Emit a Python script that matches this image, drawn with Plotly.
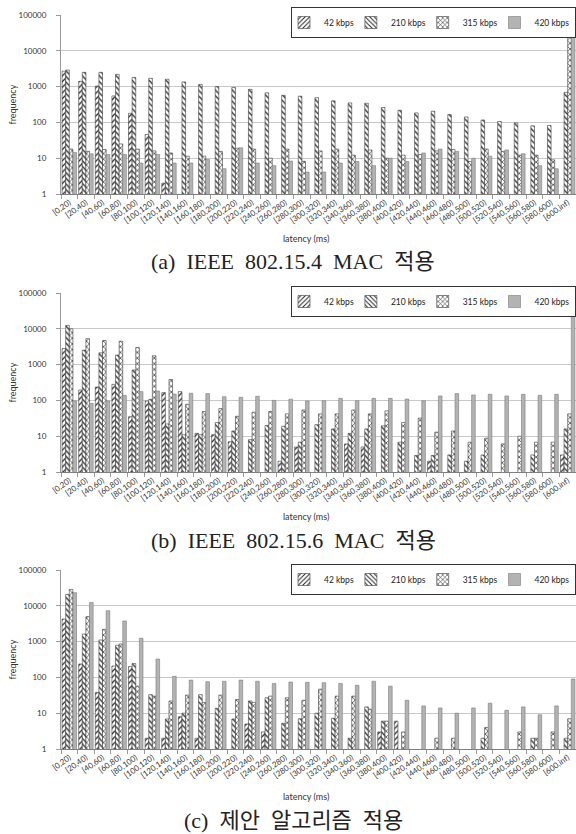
import plotly.graph_objects as go

# ---------------- data ----------------
CATEGORIES = ["[0,20)", "[20,40)", "[40,60)", "[60,80)", "[80,100)", "[100,120)",
              "[120,140)", "[140,160)", "[160,180)", "[180,200)", "[200,220)",
              "[220,240)", "[240,260)", "[260,280)", "[280,300)", "[300,320)",
              "[320,340)", "[340,360)", "[360,380)", "[380,400)", "[400,420)",
              "[420,440)", "[440,460)", "[460,480)", "[480,500)", "[500,520)",
              "[520,540)", "[540,560)", "[560,580)", "[580,600)", "[600,inf)"]

SERIES = ["42 kbps", "210 kbps", "315 kbps", "420 kbps"]

# (a) IEEE 802.15.4 MAC
A_42 = [2700, 1400, 1040, 550, 180, 46, 2, 0, 0, 0, 0, 0, 0, 0, 0, 0,
        0, 0, 0, 0, 0, 0, 0, 0, 0, 0, 0, 0, 0, 0, 0]
A_210 = [2900, 2500, 2500, 2200, 1800, 1700, 1600, 1350, 1150, 1000, 950, 840,
         670, 570, 540, 490, 400, 350, 343, 260, 218, 184, 205, 165, 142, 117,
         106, 97, 80, 82, 690]
A_315 = [18, 15.5, 17.5, 25, 18, 16, 14, 11.4, 11.4, 15.5, 19, 18, 10, 18, 8.2,
         16, 18, 12.2, 17, 10, 12.2, 12.7, 16, 17.5, 8.1, 18, 15.5, 12.2, 12.2,
         9, 25600]
A_420 = [14.5, 13.3, 12.7, 12.7, 7.3, 12.7, 7.3, 7.3, 9.2, 5.1, 19.5, 7.3, 6.2,
         8.3, 4.1, 4.1, 7.3, 8.1, 6.2, 10, 8.1, 14, 18, 15.5, 10, 11.4, 17, 13.3,
         6.2, 5.1, 25000]

# (b) IEEE 802.15.6 MAC
B_42 = [2800, 195, 237, 280, 35, 96, 165, 176, 12, 11, 7, 0, 0, 2, 5, 0, 0,
        6.1, 5, 0, 0, 0, 2, 0, 0, 0, 0, 0, 0, 0, 3]
B_210 = [12500, 2540, 2130, 1850, 705, 107, 22, 11, 11, 24, 14, 8, 20, 19, 6.8,
         21, 16, 12, 16, 19.5, 6.8, 2.9, 2.9, 3, 2, 3, 0, 0, 3, 0, 16]
B_315 = [10000, 5300, 4700, 4500, 3000, 1770, 385, 78, 49, 59, 36, 47, 49, 42,
         54, 42, 42, 54, 42, 51, 24, 32, 13, 14, 6.8, 8.8, 6.1, 10, 6.8, 6.8, 42]
B_420 = [97, 83, 96, 138, 176, 183, 150, 158, 155, 127, 122, 130, 100, 108, 96,
         98, 114, 98, 114, 114, 109, 98, 133, 155, 142, 148, 133, 148, 139, 148,
         31000]

# (c) proposed algorithm
C_42 = [4270, 237, 38, 208, 200, 2, 2, 8, 2, 0, 0, 5, 3, 0, 0, 0, 0, 0, 0, 3,
        6, 0, 0, 0, 0, 0, 0, 0, 0, 0, 0]
C_210 = [20800, 1630, 1110, 790, 245, 33, 6.9, 10, 33, 13.7, 6.9, 22, 27, 5.2,
         7, 10, 7.2, 2, 15, 6, 0, 0, 0, 0, 0, 2, 0, 0, 2, 0, 2]
C_315 = [28700, 5000, 2200, 860, 57, 30, 22, 32, 20, 32, 24, 20, 30, 27, 23, 47,
         30, 30, 13, 6, 3, 0, 2, 2, 0, 4, 0, 3, 2, 3, 7]
C_420 = [23200, 12300, 7300, 3760, 1240, 325, 107, 84, 76, 78, 84, 78, 68, 74,
         73, 71, 68, 60, 78, 57, 23, 16, 14, 10, 14, 19, 12, 15, 9, 16, 90]

Y_TICKS = [1, 10, 100, 1000, 10000, 100000]
Y_TICK_TEXT = ["1", "10", "100", "1000", "10000", "100000"]
X_TITLE = "latency (ms)"
Y_TITLE = "frequency"
CAPTIONS = ["(a)&nbsp; IEEE&nbsp; 802.15.4&nbsp; MAC&nbsp; 적용",
            "(b)&nbsp; IEEE&nbsp; 802.15.6&nbsp; MAC&nbsp; 적용",
            "(c)&nbsp; 제안&nbsp; 알고리즘&nbsp; 적용"]

# ---------------- layout helpers ----------------
W, H = 576, 834


def fx(px):
    return px / W


def fy(py):
    return 1 - py / H


PANELS = [
    dict(values=[A_42, A_210, A_315, A_420], top=15, bottom=194,
         legend_top=7, latency=238, caption=261),
    dict(values=[B_42, B_210, B_315, B_420], top=293, bottom=472,
         legend_top=286, latency=516, caption=540),
    dict(values=[C_42, C_210, C_315, C_420], top=570, bottom=749,
         legend_top=564, latency=796, caption=820),
]

STYLES = [
    dict(color="white", line="#3a3a3a",
         pattern=dict(shape="/", fgcolor="#1e1e1e", bgcolor="white",
                      size=4, solidity=0.3, fillmode="replace")),
    dict(color="white", line="#3a3a3a",
         pattern=dict(shape="\\", fgcolor="#1e1e1e", bgcolor="white",
                      size=4, solidity=0.3, fillmode="replace")),
    dict(color="white", line="#3a3a3a",
         pattern=dict(shape="x", fgcolor="#1e1e1e", bgcolor="white",
                      size=4, solidity=0.3, fillmode="replace")),
    dict(color="#b3b3b3", line="#7a7a7a", pattern=None),
]

TICK_FONT = dict(family="Lato, 'Open Sans', sans-serif", size=8, color="#333")
LABEL_FONT = dict(family="Lato, 'Open Sans', sans-serif", size=9, color="#333")
CAPTION_FONT = dict(family="'Liberation Serif', 'Noto Sans CJK KR', serif",
                    size=22, color="#222")

fig = go.Figure()
annotations = []
layout_extra = {}

for k, p in enumerate(PANELS):
    n = k + 1
    xa = "x" if n == 1 else f"x{n}"
    ya = "y" if n == 1 else f"y{n}"
    leg = "legend" if n == 1 else f"legend{n}"
    for name, vals, st in zip(SERIES, p["values"], STYLES):
        marker = dict(color=st["color"], line=dict(color=st["line"], width=0.6))
        if st["pattern"] is not None:
            marker["pattern"] = st["pattern"]
        fig.add_trace(go.Bar(
            x=CATEGORIES,
            y=[v if v > 0 else None for v in vals],
            name=name, marker=marker,
            xaxis=xa, yaxis=ya, legend=leg,
        ))

    xkey = "xaxis" if n == 1 else f"xaxis{n}"
    ykey = "yaxis" if n == 1 else f"yaxis{n}"
    layout_extra[xkey] = dict(
        domain=[fx(61), 1.0], anchor=ya, type="category",
        showgrid=False, showline=True, linecolor="#7f7f7f", linewidth=1,
        ticks="outside", tickson="boundaries", ticklen=4, tickcolor="#9a9a9a",
        tickangle=-35, tickfont=TICK_FONT, automargin=False,
    )
    layout_extra[ykey] = dict(
        domain=[fy(p["bottom"]), fy(p["top"])], anchor=xa, type="log",
        range=[0, 5], tickvals=Y_TICKS, ticktext=Y_TICK_TEXT,
        showgrid=True, gridcolor="#c8c8c8", gridwidth=1,
        showline=True, linecolor="#9a9a9a", linewidth=1,
        ticks="outside", ticklen=4, tickcolor="#9a9a9a",
        ticklabelstandoff=8, tickfont=TICK_FONT, automargin=False,
        zeroline=False,
    )
    layout_extra[leg] = dict(
        orientation="h", x=1.0, xanchor="right",
        y=fy(p["legend_top"]), yanchor="top",
        bgcolor="white", bordercolor="#333", borderwidth=1,
        font=dict(family="Lato, 'Open Sans', sans-serif", size=8.5, color="#222"),
        itemwidth=30, tracegroupgap=0, indentation=-8,
    )
    annotations.append(dict(
        text=X_TITLE, x=fx(306), y=fy(p["latency"]), xref="paper", yref="paper",
        showarrow=False, font=LABEL_FONT, xanchor="center", yanchor="middle"))
    annotations.append(dict(
        text=Y_TITLE, x=fx(12), y=fy((p["top"] + p["bottom"]) / 2),
        xref="paper", yref="paper", showarrow=False, font=LABEL_FONT,
        textangle=-90, xanchor="center", yanchor="middle"))
    annotations.append(dict(
        text=CAPTIONS[k], x=fx(293), y=fy(p["caption"]), xref="paper",
        yref="paper", showarrow=False, font=CAPTION_FONT,
        xanchor="center", yanchor="middle"))

fig.update_layout(
    width=W, height=H,
    margin=dict(l=0, r=0, t=0, b=0, autoexpand=False),
    paper_bgcolor="white", plot_bgcolor="white",
    barmode="group", bargap=0.13, bargroupgap=0.0,
    annotations=annotations,
    **layout_extra,
)

fig.write_html(
    "out.html",
    config={"displayModeBar": False},
    post_script="document.body.style.margin='0';"
                "document.body.style.overflow='hidden';",
)
